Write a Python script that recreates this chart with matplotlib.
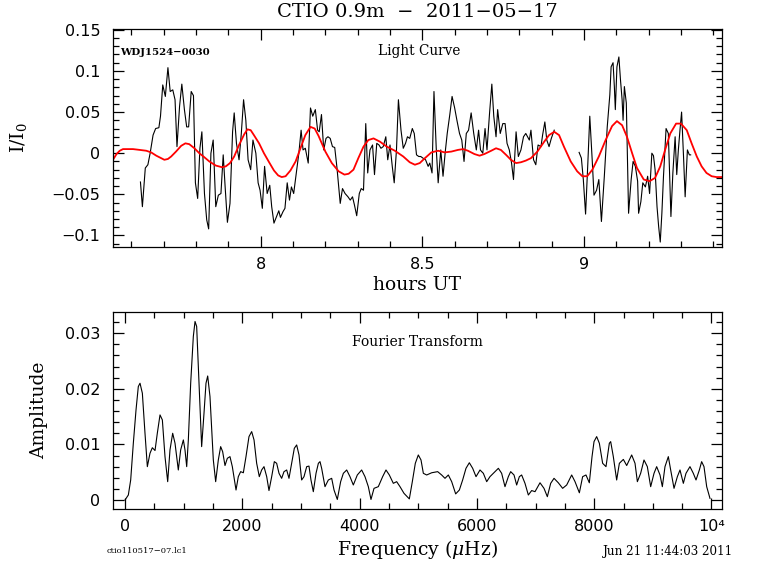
import matplotlib
matplotlib.use("Agg")
import matplotlib.pyplot as plt
import numpy as np
from matplotlib.ticker import MultipleLocator, FuncFormatter

plt.rcParams['font.family'] = ['DejaVu Sans']
plt.rcParams['mathtext.fontset'] = 'dejavuserif'

# light curve, first block (hours UT, fractional intensity)
lc_time_a = [7.628, 7.634, 7.643, 7.651, 7.658, 7.667, 7.675, 7.685, 7.690, 7.697,
             7.705, 7.713, 7.720, 7.728, 7.735, 7.741, 7.749, 7.756, 7.764, 7.771,
             7.777, 7.785, 7.792, 7.798, 7.805, 7.812, 7.818, 7.826, 7.833, 7.839,
             7.846, 7.853, 7.861, 7.869, 7.877, 7.884, 7.890, 7.897, 7.905, 7.913,
             7.918, 7.925, 7.933, 7.940, 7.947, 7.954, 7.961, 7.969, 7.976, 7.985,
             7.992, 7.998, 8.005, 8.012, 8.020, 8.028, 8.034, 8.041, 8.049, 8.056,
             8.061, 8.069, 8.075, 8.082, 8.089, 8.095, 8.102, 8.110, 8.118, 8.125,
             8.131, 8.138, 8.147, 8.154, 8.161, 8.169, 8.176, 8.181, 8.188, 8.195,
             8.202, 8.208, 8.215, 8.222, 8.229, 8.236, 8.246, 8.253, 8.261, 8.270,
             8.277, 8.284, 8.290, 8.297, 8.305, 8.311, 8.318, 8.325, 8.331, 8.338,
             8.346, 8.352, 8.359, 8.366, 8.372, 8.379, 8.387, 8.393, 8.400, 8.407,
             8.413, 8.420, 8.426, 8.434, 8.441, 8.448, 8.454, 8.461, 8.469, 8.475,
             8.482, 8.489, 8.495, 8.502, 8.510, 8.518, 8.523, 8.530, 8.536, 8.543,
             8.549, 8.557, 8.564, 8.571, 8.577, 8.585, 8.592, 8.600, 8.607, 8.615,
             8.622, 8.629, 8.636, 8.643, 8.651, 8.659, 8.667, 8.674, 8.680, 8.687,
             8.694, 8.700, 8.708, 8.715, 8.721, 8.728, 8.733, 8.741, 8.749, 8.756,
             8.762, 8.769, 8.776, 8.782, 8.790, 8.797, 8.805, 8.813, 8.820, 8.831,
             8.836, 8.844, 8.851, 8.858, 8.867, 8.872, 8.879, 8.885, 8.892, 8.899,
             8.908]
lc_flux_a = [-0.035, -0.065, -0.018, -0.014, 0.000, 0.022, 0.030, 0.031, 0.045, 0.083,
             0.069, 0.104, 0.075, 0.077, 0.065, 0.008, 0.057, 0.084, 0.053, 0.032,
             0.032, 0.075, 0.070, -0.036, -0.055, 0.006, 0.026, -0.049, -0.081, -0.092,
             0.000, 0.016, -0.065, -0.051, -0.049, -0.002, -0.041, -0.084, -0.061, 0.026,
             0.049, 0.012, -0.008, 0.024, 0.065, 0.040, -0.008, -0.020, 0.016, 0.000,
             -0.036, -0.045, -0.067, -0.016, -0.049, -0.039, -0.065, -0.085, -0.077, -0.070,
             -0.078, -0.071, -0.067, -0.036, -0.057, -0.041, -0.049, -0.024, 0.000, 0.028,
             0.004, 0.006, -0.012, 0.055, 0.045, 0.053, 0.028, 0.026, 0.047, 0.004,
             0.018, 0.020, 0.018, 0.008, 0.007, -0.018, -0.061, -0.043, -0.049, -0.053,
             -0.057, -0.053, -0.063, -0.076, -0.049, -0.043, -0.045, 0.036, -0.024, 0.004,
             0.010, -0.026, 0.012, 0.010, 0.006, 0.008, 0.020, -0.008, 0.010, -0.016,
             -0.036, 0.004, 0.065, 0.028, 0.006, 0.012, 0.020, 0.018, 0.030, 0.024,
             -0.002, -0.004, -0.004, -0.006, -0.008, -0.016, -0.012, -0.024, 0.075, 0.006,
             -0.036, 0.004, -0.028, 0.002, 0.024, 0.047, 0.069, 0.055, 0.040, 0.024,
             0.016, -0.010, 0.024, 0.028, 0.049, 0.024, 0.004, 0.028, 0.004, 0.000,
             0.030, 0.004, 0.049, 0.084, 0.045, 0.020, 0.053, 0.024, 0.036, 0.036,
             0.012, 0.004, -0.012, -0.032, 0.026, -0.004, 0.004, 0.020, 0.024, 0.016,
             0.028, -0.008, -0.014, 0.010, 0.008, 0.022, 0.038, 0.016, 0.008, 0.018,
             0.028]

# light curve, second block after the gap
lc_time_b = [8.985, 8.992, 8.998, 9.005, 9.012, 9.018, 9.026, 9.031, 9.039, 9.046,
             9.054, 9.063, 9.072, 9.080, 9.084, 9.090, 9.094, 9.097, 9.102, 9.108,
             9.113, 9.118, 9.121, 9.125, 9.131, 9.138, 9.146, 9.152, 9.159, 9.166,
             9.169, 9.176, 9.182, 9.190, 9.197, 9.203, 9.210, 9.215, 9.220, 9.226,
             9.231, 9.236, 9.241, 9.246, 9.254, 9.261, 9.269, 9.275, 9.282, 9.287,
             9.292, 9.297, 9.302, 9.308, 9.313, 9.320, 9.326, 9.330]
lc_flux_b = [0.001, -0.006, -0.032, -0.074, -0.012, 0.045, -0.012, -0.051, -0.045, -0.032,
             -0.083, -0.028, 0.032, 0.071, 0.105, 0.110, 0.081, 0.053, 0.105, 0.117,
             0.089, 0.065, 0.040, 0.081, 0.061, -0.073, -0.032, -0.010, -0.016, -0.034,
             -0.073, -0.059, -0.036, -0.041, -0.028, -0.049, 0.000, -0.003, -0.020, -0.065,
             -0.089, -0.108, -0.073, -0.028, 0.030, 0.024, -0.077, -0.024, 0.020, -0.026,
             0.004, 0.028, 0.050, -0.004, -0.053, 0.004, -0.002, -0.002]

# multi-sine fit (red)
fit_time = [7.543, 7.554, 7.564, 7.574, 7.590, 7.605, 7.626, 7.646, 7.661, 7.677,
            7.692, 7.702, 7.713, 7.723, 7.738, 7.754, 7.767, 7.779, 7.795, 7.810,
            7.826, 7.841, 7.861, 7.880, 7.892, 7.905, 7.918, 7.933, 7.949, 7.959,
            7.969, 7.979, 7.995, 8.010, 8.026, 8.041, 8.054, 8.065, 8.077, 8.092,
            8.108, 8.123, 8.138, 8.154, 8.167, 8.179, 8.200, 8.220, 8.241, 8.259,
            8.272, 8.287, 8.302, 8.318, 8.333, 8.349, 8.369, 8.390, 8.415, 8.441,
            8.461, 8.477, 8.492, 8.508, 8.528, 8.549, 8.569, 8.590, 8.610, 8.626,
            8.641, 8.661, 8.677, 8.692, 8.713, 8.728, 8.743, 8.759, 8.774, 8.790,
            8.805, 8.820, 8.836, 8.856, 8.877, 8.892, 8.908, 8.923, 8.938, 8.959,
            8.979, 8.995, 9.010, 9.026, 9.046, 9.067, 9.087, 9.102, 9.118, 9.133,
            9.149, 9.164, 9.185, 9.203, 9.220, 9.236, 9.251, 9.267, 9.285, 9.300,
            9.318, 9.333, 9.349, 9.364, 9.379, 9.395, 9.410, 9.425]
fit_flux = [-0.008, -0.001, 0.003, 0.005, 0.005, 0.005, 0.004, 0.003, 0.001, -0.003,
            -0.006, -0.008, -0.007, -0.004, 0.002, 0.009, 0.012, 0.011, 0.006, 0.000,
            -0.005, -0.010, -0.015, -0.017, -0.016, -0.012, -0.004, 0.010, 0.023, 0.029,
            0.028, 0.022, 0.012, 0.000, -0.011, -0.021, -0.027, -0.029, -0.028, -0.021,
            -0.010, 0.006, 0.022, 0.032, 0.030, 0.021, 0.002, -0.012, -0.022, -0.026,
            -0.025, -0.020, -0.006, 0.008, 0.016, 0.018, 0.014, 0.008, 0.003, -0.004,
            -0.011, -0.014, -0.012, -0.006, 0.001, 0.003, 0.001, 0.002, 0.004, 0.005,
            0.003, -0.001, -0.003, -0.001, 0.003, 0.006, 0.004, -0.002, -0.008, -0.012,
            -0.011, -0.009, -0.006, 0.002, 0.014, 0.022, 0.026, 0.022, 0.008, -0.010,
            -0.022, -0.028, -0.028, -0.020, -0.004, 0.016, 0.033, 0.039, 0.034, 0.020,
            0.000, -0.018, -0.032, -0.034, -0.030, -0.016, 0.004, 0.024, 0.036, 0.036,
            0.028, 0.012, -0.004, -0.016, -0.024, -0.028, -0.029, -0.029]

# amplitude spectrum (micro-Hz, amplitude)
ft_freq = [0, 57, 97, 142, 188, 227, 256, 296, 341, 381,
           426, 466, 512, 551, 597, 637, 682, 728, 767, 813,
           853, 909, 949, 995, 1023, 1052, 1080, 1120, 1165, 1194,
           1222, 1262, 1307, 1347, 1381, 1410, 1449, 1506, 1546, 1591,
           1631, 1665, 1705, 1745, 1790, 1830, 1893, 1932, 1972, 2018,
           2063, 2114, 2160, 2200, 2245, 2290, 2330, 2370, 2416, 2455,
           2501, 2546, 2586, 2626, 2671, 2711, 2757, 2796, 2842, 2887,
           2927, 2967, 3012, 3052, 3098, 3137, 3171, 3211, 3257, 3297,
           3325, 3353, 3410, 3467, 3524, 3564, 3620, 3677, 3723, 3780,
           3836, 3893, 3961, 4035, 4092, 4149, 4194, 4246, 4319, 4393,
           4450, 4507, 4575, 4632, 4689, 4757, 4848, 4899, 4950, 5001,
           5047, 5087, 5144, 5229, 5331, 5399, 5456, 5513, 5570, 5638,
           5701, 5757, 5814, 5871, 5928, 5985, 6053, 6110, 6167, 6223,
           6309, 6366, 6422, 6479, 6536, 6576, 6633, 6678, 6724, 6763,
           6820, 6877, 6934, 6991, 7076, 7144, 7201, 7258, 7315, 7388,
           7462, 7531, 7616, 7673, 7747, 7803, 7860, 7917, 7963, 7997,
           8042, 8088, 8144, 8201, 8258, 8281, 8326, 8383, 8429, 8497,
           8554, 8639, 8696, 8736, 8792, 8849, 8906, 8963, 9020, 9065,
           9122, 9162, 9207, 9264, 9304, 9361, 9418, 9463, 9520, 9565,
           9633, 9690, 9736, 9793, 9832, 9872, 9918, 9974]
ft_amp = [0.0000, 0.0009, 0.0036, 0.0102, 0.0162, 0.0204, 0.0210, 0.0192, 0.0120, 0.0060,
          0.0084, 0.0094, 0.0089, 0.0120, 0.0153, 0.0144, 0.0078, 0.0033, 0.0090, 0.0120,
          0.0102, 0.0054, 0.0090, 0.0108, 0.0090, 0.0060, 0.0108, 0.0210, 0.0294, 0.0321,
          0.0312, 0.0210, 0.0096, 0.0156, 0.0210, 0.0223, 0.0186, 0.0072, 0.0033, 0.0072,
          0.0096, 0.0087, 0.0062, 0.0075, 0.0078, 0.0060, 0.0018, 0.0042, 0.0051, 0.0049,
          0.0078, 0.0114, 0.0123, 0.0108, 0.0066, 0.0042, 0.0054, 0.0060, 0.0042, 0.0017,
          0.0042, 0.0069, 0.0066, 0.0048, 0.0039, 0.0051, 0.0054, 0.0039, 0.0066, 0.0093,
          0.0099, 0.0081, 0.0036, 0.0042, 0.0060, 0.0061, 0.0036, 0.0015, 0.0048, 0.0066,
          0.0069, 0.0057, 0.0024, 0.0036, 0.0039, 0.0018, 0.0001, 0.0033, 0.0048, 0.0054,
          0.0042, 0.0027, 0.0045, 0.0054, 0.0042, 0.0024, 0.0001, 0.0021, 0.0024, 0.0042,
          0.0054, 0.0045, 0.0030, 0.0033, 0.0024, 0.0012, 0.0002, 0.0033, 0.0066, 0.0081,
          0.0072, 0.0048, 0.0045, 0.0049, 0.0051, 0.0045, 0.0039, 0.0045, 0.0033, 0.0011,
          0.0018, 0.0036, 0.0057, 0.0067, 0.0057, 0.0042, 0.0054, 0.0048, 0.0033, 0.0042,
          0.0051, 0.0057, 0.0048, 0.0024, 0.0042, 0.0051, 0.0045, 0.0027, 0.0042, 0.0045,
          0.0030, 0.0009, 0.0017, 0.0015, 0.0031, 0.0021, 0.0006, 0.0030, 0.0039, 0.0031,
          0.0021, 0.0027, 0.0045, 0.0033, 0.0013, 0.0042, 0.0045, 0.0031, 0.0078, 0.0105,
          0.0114, 0.0102, 0.0066, 0.0060, 0.0102, 0.0105, 0.0078, 0.0036, 0.0066, 0.0073,
          0.0062, 0.0081, 0.0066, 0.0033, 0.0048, 0.0072, 0.0060, 0.0024, 0.0048, 0.0060,
          0.0045, 0.0024, 0.0060, 0.0078, 0.0054, 0.0021, 0.0042, 0.0054, 0.0030, 0.0048,
          0.0060, 0.0048, 0.0036, 0.0054, 0.0069, 0.0060, 0.0024, 0.0003]


def plain(v, pos):
    if abs(v) < 1e-12:
        return "0"
    return f"{v:g}".replace("-", "\u2212")


def freq_label(v, pos):
    if abs(v - 10000) < 1e-6:
        return "10\u2074"
    return f"{v:g}"


def style_axes(ax):
    ax.tick_params(which='both', direction='in', top=True, right=True,
                   width=0.9, labelsize=11.5, pad=7)
    ax.tick_params(which='major', length=8)
    ax.tick_params(which='minor', length=4)
    for s in ax.spines.values():
        s.set_linewidth(0.9)


fig = plt.figure(figsize=(7.68, 5.74), dpi=100)
ax1 = fig.add_axes([0.1471, 0.5697, 0.7930, 0.3798])
ax2 = fig.add_axes([0.1471, 0.1132, 0.7930, 0.3432])

# top: light curve
ax1.plot(lc_time_a, lc_flux_a, color='black', lw=0.8)
ax1.plot(lc_time_b, lc_flux_b, color='black', lw=0.8)
ax1.plot(fit_time, fit_flux, color='#ff0000', lw=1.3)
ax1.set_xlim(7.543, 9.427)
ax1.set_ylim(-0.114, 0.151)
ax1.xaxis.set_major_locator(MultipleLocator(0.5))
ax1.xaxis.set_minor_locator(MultipleLocator(0.1))
ax1.yaxis.set_major_locator(MultipleLocator(0.05))
ax1.yaxis.set_minor_locator(MultipleLocator(0.01))
ax1.xaxis.set_major_formatter(FuncFormatter(plain))
ax1.yaxis.set_major_formatter(FuncFormatter(plain))
style_axes(ax1)
ax1.tick_params(axis='y', pad=9)
ax1.set_xlabel("hours UT", family='DejaVu Serif', fontsize=13.5)
ax1.xaxis.set_label_coords(0.5, -0.133)
ax1.set_ylabel("I/I$_0$", family='DejaVu Serif', fontsize=13.5)
ax1.yaxis.set_label_coords(-0.138, 0.5)
ax1.text(0.0115, 0.894, "WDJ1524\u22120030", transform=ax1.transAxes,
         family='DejaVu Serif', fontweight='bold', fontsize=7.3, va='center', ha='left')
ax1.text(0.502, 0.899, "Light Curve", transform=ax1.transAxes,
         family='DejaVu Serif', fontsize=9.8, va='center', ha='center')

# bottom: Fourier transform
ax2.plot(ft_freq, ft_amp, color='black', lw=0.8)
ax2.set_xlim(-205, 10179)
ax2.set_ylim(-0.00162, 0.0338)
ax2.xaxis.set_major_locator(MultipleLocator(2000))
ax2.xaxis.set_minor_locator(MultipleLocator(500))
ax2.yaxis.set_major_locator(MultipleLocator(0.01))
ax2.yaxis.set_minor_locator(MultipleLocator(0.002))
ax2.xaxis.set_major_formatter(FuncFormatter(freq_label))
ax2.yaxis.set_major_formatter(FuncFormatter(plain))
style_axes(ax2)
ax2.tick_params(axis='y', pad=9)
ax2.set_xlabel("Frequency ($\\mu$Hz)", family='DejaVu Serif', fontsize=13.5)
ax2.xaxis.set_label_coords(0.5, -0.147)
ax2.set_ylabel("Amplitude", family='DejaVu Serif', fontsize=13.5)
ax2.yaxis.set_label_coords(-0.107, 0.5)
ax2.text(0.5, 0.848, "Fourier Transform", transform=ax2.transAxes,
         family='DejaVu Serif', fontsize=10, va='center', ha='center')

fig.text(417.5 / 768, 1 - 12 / 574, "CTIO 0.9m  \u2212  2011\u221205\u221217",
         family='DejaVu Serif', fontsize=14, ha='center', va='center')
fig.text(107 / 768, 1 - 551 / 574, "ctio110517\u221207.lc1",
         family='DejaVu Serif', fontsize=6.0, ha='left', va='center')
fig.text(733 / 768, 1 - 552 / 574, "Jun 21 11:44:03 2011",
         family='DejaVu Serif', fontsize=8.6, ha='right', va='center')

fig.savefig("out.png", dpi=100)
